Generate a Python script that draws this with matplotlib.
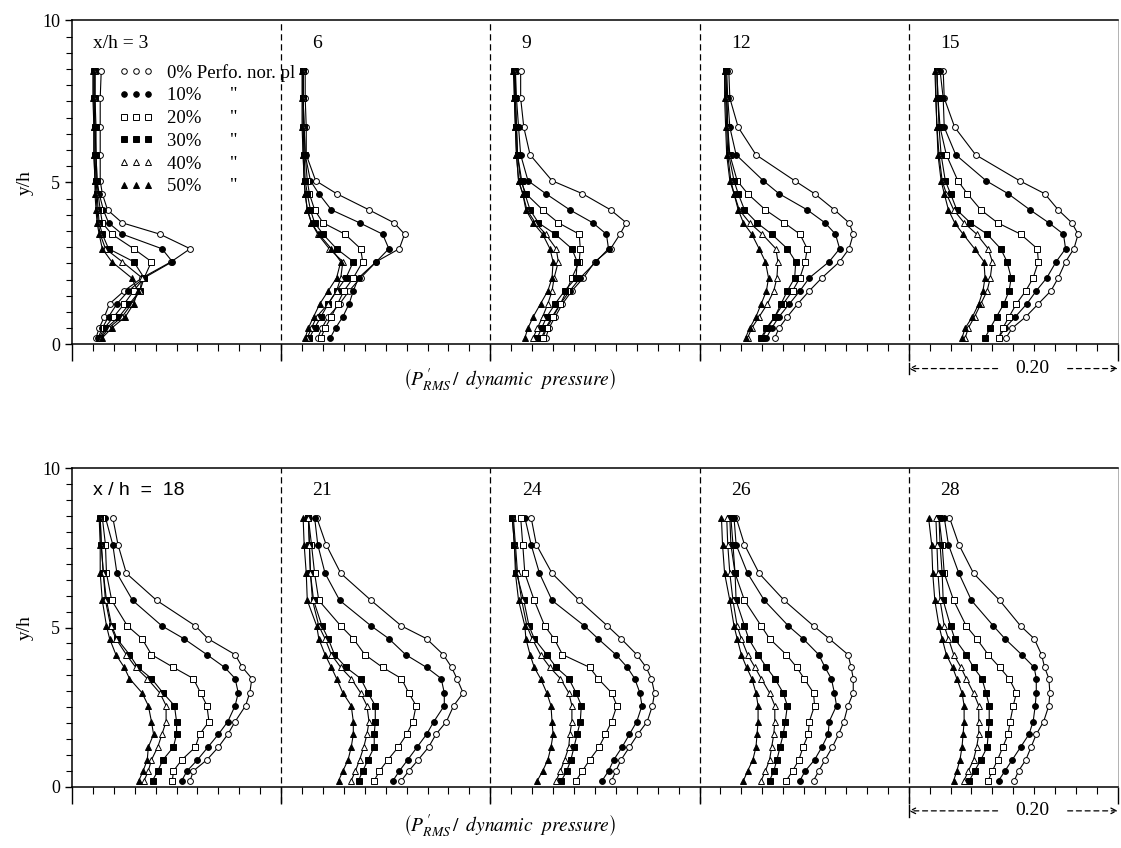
import matplotlib
matplotlib.use('Agg')
from matplotlib import pyplot as plt
from matplotlib.lines import Line2D
from matplotlib.ticker import MultipleLocator

plt.rcParams['font.family'] = ['Liberation Serif', 'DejaVu Serif']
plt.rcParams['mathtext.fontset'] = 'stix'

# y/h of the measuring points (same rake for every profile)
yh = [0.2, 0.5, 0.85, 1.25, 1.65, 2.05, 2.55, 2.95, 3.4, 3.75,
      4.15, 4.65, 5.05, 5.85, 6.7, 7.6, 8.45]

perfo = ['0%', '10%', '20%', '30%', '40%', '50%']
legend_labels = ['0% Perfo. nor. pl', '10%      "', '20%      "',
                 '30%      "', '40%      "', '50%      "']
markers = ['o', 'o', 's', 's', '^', '^']
faces = ['white', 'black', 'white', 'black', 'white', 'black']

# P'rms / dynamic pressure  (x 1000), rows = 0,10,20,30,40,50 % perforation
xh_03 = [[23, 26, 31, 36, 50, 67, 95, 113, 84, 48, 34, 29, 27, 27, 27, 27, 28],
         [25, 29, 35, 43, 54, 69, 96, 86, 48, 35, 30, 26, 24, 23, 22, 22, 22],
         [26, 31, 40, 50, 59, 69, 76, 59, 38, 29, 27, 25, 24, 23, 23, 22, 22],
         [27, 33, 45, 55, 65, 69, 59, 35, 29, 26, 25, 24, 23, 22, 22, 21, 21],
         [28, 35, 48, 57, 65, 67, 48, 32, 27, 25, 24, 23, 22, 21, 21, 21, 21],
         [29, 38, 51, 59, 63, 57, 38, 29, 26, 24, 23, 22, 22, 21, 21, 20, 20]]
xh_06 = [[35, 39, 45, 56, 65, 76, 91, 113, 118, 108, 84, 53, 33, 24, 24, 23, 23],
         [47, 52, 59, 65, 69, 74, 91, 103, 97, 75, 48, 36, 28, 23, 22, 21, 21],
         [38, 42, 48, 54, 60, 69, 78, 76, 61, 40, 32, 27, 25, 23, 22, 21, 21],
         [27, 32, 38, 45, 53, 62, 69, 53, 40, 32, 28, 25, 23, 22, 21, 21, 21],
         [25, 29, 34, 45, 53, 57, 59, 46, 35, 29, 25, 23, 22, 21, 21, 21, 21],
         [23, 26, 31, 37, 45, 53, 57, 48, 36, 29, 25, 23, 22, 21, 20, 20, 20]]
xh_09 = [[53, 56, 62, 69, 78, 89, 100, 115, 124, 130, 115, 88, 59, 38, 32, 29, 29],
         [49, 53, 59, 67, 76, 86, 101, 113, 111, 98, 76, 53, 36, 29, 27, 25, 24],
         [50, 54, 60, 67, 73, 78, 85, 86, 85, 65, 50, 34, 29, 26, 25, 24, 24],
         [45, 49, 54, 62, 71, 82, 83, 78, 62, 46, 38, 33, 30, 26, 25, 24, 23],
         [41, 45, 50, 55, 59, 61, 65, 63, 53, 43, 35, 31, 27, 25, 24, 23, 23],
         [33, 36, 41, 48, 55, 59, 60, 57, 50, 41, 34, 31, 27, 25, 24, 23, 22]]
xh_12 = [[72, 76, 84, 94, 105, 117, 134, 143, 147, 143, 129, 110, 91, 54, 37, 29, 28],
         [64, 69, 76, 86, 96, 105, 124, 134, 130, 120, 103, 76, 61, 35, 29, 27, 26],
         [59, 64, 72, 80, 89, 96, 101, 103, 96, 81, 63, 46, 36, 29, 27, 26, 25],
         [60, 65, 72, 78, 84, 91, 92, 84, 69, 55, 43, 37, 33, 28, 27, 26, 25],
         [46, 50, 57, 65, 71, 74, 75, 73, 60, 48, 38, 33, 30, 27, 26, 25, 24],
         [44, 48, 54, 59, 64, 66, 63, 57, 50, 42, 37, 33, 29, 26, 25, 24, 24]]
xh_15 = [[93, 99, 112, 124, 136, 143, 150, 158, 162, 156, 143, 130, 106, 64, 44, 34, 33],
         [86, 92, 102, 113, 122, 132, 141, 150, 148, 134, 116, 95, 74, 45, 34, 33, 30],
         [86, 90, 96, 103, 112, 119, 124, 123, 107, 85, 69, 56, 47, 36, 30, 28, 27],
         [73, 78, 84, 91, 96, 98, 94, 88, 75, 59, 46, 40, 35, 31, 29, 28, 27],
         [54, 57, 63, 69, 75, 78, 80, 76, 65, 53, 43, 36, 32, 29, 27, 26, 26],
         [51, 54, 61, 67, 71, 73, 72, 63, 52, 44, 38, 34, 31, 28, 27, 26, 25]]
xh_18 = [[113, 116, 129, 140, 149, 156, 166, 170, 172, 163, 156, 130, 118, 81, 52, 44, 39],
         [105, 110, 120, 130, 140, 149, 156, 159, 156, 146, 129, 107, 86, 58, 43, 39, 32],
         [96, 97, 105, 118, 122, 131, 129, 123, 116, 97, 76, 67, 53, 38, 33, 32, 29],
         [77, 82, 87, 97, 100, 100, 98, 87, 76, 63, 55, 43, 38, 33, 30, 28, 27],
         [69, 73, 76, 82, 86, 90, 90, 84, 72, 61, 52, 42, 37, 32, 30, 28, 27],
         [64, 68, 72, 73, 78, 76, 73, 67, 55, 50, 42, 36, 33, 29, 27, 27, 26]]
xh_21 = [[115, 122, 131, 141, 148, 158, 165, 174, 168, 163, 155, 139, 115, 86, 57, 43, 34],
         [107, 113, 121, 130, 139, 146, 156, 156, 153, 139, 119, 103, 86, 56, 42, 35, 32],
         [89, 94, 102, 112, 120, 126, 129, 122, 115, 97, 80, 69, 57, 36, 32, 29, 26],
         [74, 78, 83, 89, 89, 90, 90, 83, 76, 62, 51, 45, 39, 31, 28, 27, 26],
         [67, 71, 75, 79, 82, 84, 82, 76, 67, 57, 48, 42, 36, 30, 28, 27, 26],
         [55, 59, 64, 67, 69, 69, 67, 59, 53, 48, 42, 36, 34, 25, 24, 22, 21]]
xh_24 = [[116, 120, 125, 133, 141, 150, 155, 157, 154, 149, 140, 125, 112, 85, 59, 44, 39],
         [107, 113, 118, 126, 133, 140, 145, 143, 138, 131, 120, 103, 90, 59, 47, 39, 33],
         [82, 88, 95, 104, 110, 116, 121, 116, 103, 95, 69, 61, 52, 42, 33, 31, 29],
         [68, 73, 77, 80, 83, 86, 87, 82, 75, 63, 54, 42, 37, 32, 25, 23, 21],
         [63, 67, 71, 75, 76, 78, 78, 75, 67, 57, 48, 40, 35, 30, 26, 24, 22],
         [45, 50, 55, 58, 60, 59, 58, 54, 48, 42, 38, 34, 33, 27, 24, 23, 21]]
xh_26 = [[109, 114, 120, 127, 133, 138, 142, 147, 147, 145, 142, 124, 109, 81, 57, 43, 35],
         [96, 101, 110, 117, 123, 124, 131, 129, 126, 120, 114, 99, 85, 62, 46, 35, 33],
         [83, 89, 95, 99, 104, 105, 110, 109, 100, 93, 83, 67, 59, 43, 34, 30, 29],
         [67, 71, 74, 77, 80, 82, 84, 80, 72, 64, 56, 47, 43, 35, 34, 32, 30],
         [59, 63, 67, 69, 71, 72, 72, 67, 59, 53, 46, 40, 36, 32, 29, 27, 26],
         [42, 46, 51, 54, 55, 56, 56, 54, 50, 45, 40, 36, 33, 29, 24, 22, 21]]
xh_28 = [[101, 105, 112, 117, 122, 129, 134, 135, 134, 130, 127, 120, 107, 87, 62, 48, 39],
         [86, 92, 99, 107, 115, 119, 121, 122, 122, 120, 108, 92, 81, 60, 48, 38, 34],
         [76, 80, 85, 90, 95, 97, 100, 103, 96, 87, 76, 65, 55, 43, 34, 32, 29],
         [58, 63, 69, 75, 76, 77, 77, 74, 70, 62, 55, 44, 40, 33, 32, 30, 29],
         [53, 57, 62, 65, 67, 67, 67, 62, 55, 50, 43, 38, 34, 30, 28, 27, 26],
         [43, 46, 49, 51, 52, 53, 53, 51, 46, 42, 36, 32, 29, 25, 23, 22, 19]]

top_stations = ['x/h = 3', '6', '9', '12', '15']
top_profiles = [xh_03, xh_06, xh_09, xh_12, xh_15]
bottom_stations = ['x / h  =  18', '21', '24', '26', '28']
bottom_profiles = [xh_18, xh_21, xh_24, xh_26, xh_28]

panel_width = 0.20   # each station panel spans 0.20 of P'rms/q


def draw_row(ax, stations, profiles):
    ax.set_xlim(0, 5 * panel_width)
    ax.set_ylim(0, 10)

    for i, prof in enumerate(profiles):
        x0 = i * panel_width
        for k, vals in enumerate(prof):
            xs = [x0 + v / 1000.0 for v in vals]
            ax.plot(xs, yh, color='black', lw=0.8, marker=markers[k],
                    markersize=4.2, markerfacecolor=faces[k],
                    markeredgecolor='black', markeredgewidth=0.7)
        if i > 0:
            ax.axvline(x0, ymin=-0.05, ymax=1, color='black', lw=0.9,
                       linestyle=(0, (5, 3)), clip_on=False)

    for i, lab in enumerate(stations):
        fam = ['Liberation Sans'] if lab.startswith('x / h') else None
        ax.text(i * panel_width + (0.02 if i == 0 else 0.03), 9.3, lab,
                fontsize=14, va='center', ha='left', family=fam)

    ax.xaxis.set_major_locator(MultipleLocator(panel_width))
    ax.xaxis.set_minor_locator(MultipleLocator(0.02))
    ax.yaxis.set_major_locator(MultipleLocator(5))
    ax.yaxis.set_minor_locator(MultipleLocator(0.5))
    ax.tick_params(axis='x', which='major', direction='out', length=12,
                   width=1, labelbottom=False)
    ax.tick_params(axis='x', which='minor', direction='out', length=5, width=0.8)
    ax.tick_params(axis='y', which='major', direction='out', length=5,
                   width=1, labelsize=13)
    ax.tick_params(axis='y', which='minor', direction='out', length=4, width=0.8)
    ax.set_ylabel('y/h', fontsize=14, labelpad=6)

    for s in ['top', 'left', 'bottom']:
        ax.spines[s].set_linewidth(1.1)
    ax.spines['right'].set_color('0.65')
    ax.spines['right'].set_linewidth(0.6)

    # scale arrow under the last panel
    yf = -0.075
    trans = ax.get_xaxis_transform()
    ax.annotate('', xy=(0.8, yf), xytext=(0.885, yf), xycoords=trans,
                arrowprops=dict(arrowstyle='->', lw=0.9, linestyle=(0, (4, 3)),
                                shrinkA=0, shrinkB=0), annotation_clip=False)
    ax.annotate('', xy=(1.0, yf), xytext=(0.952, yf), xycoords=trans,
                arrowprops=dict(arrowstyle='->', lw=0.9, linestyle=(0, (4, 3)),
                                shrinkA=0, shrinkB=0), annotation_clip=False)
    ax.plot([0.8, 0.8], [yf - 0.018, yf + 0.018], transform=trans,
            color='black', lw=1, clip_on=False)
    ax.text(0.918, yf, '0.20', transform=trans, ha='center', va='center',
            fontsize=14)


fig = plt.figure(figsize=(11.21, 8.48), dpi=100)
ax_top = fig.add_axes([0.0642, 0.594, 0.933, 0.382])
ax_bot = fig.add_axes([0.0642, 0.072, 0.933, 0.376])

draw_row(ax_top, top_stations, top_profiles)
draw_row(ax_bot, bottom_stations, bottom_profiles)

handles = [Line2D([], [], linestyle='None', marker=markers[k], markersize=4,
                  markerfacecolor=faces[k], markeredgecolor='black',
                  markeredgewidth=0.7) for k in range(len(perfo))]
ax_top.legend(handles, legend_labels, loc='upper left',
              bbox_to_anchor=(0.044, 0.866), frameon=False, numpoints=3,
              handlelength=1.9, handletextpad=0.7, labelspacing=0.3,
              borderaxespad=0, borderpad=0, fontsize=13.5)

xlab = r'$\left(P^{\,\prime}_{RMS}\,/\;\; dynamic\ \ pressure\right)$'
fig.text(0.455, 1 - 380 / 848, xlab, ha='center', va='center', fontsize=14)
fig.text(0.455, 1 - 826 / 848, xlab, ha='center', va='center', fontsize=14)

fig.savefig('out.png', dpi=100)
